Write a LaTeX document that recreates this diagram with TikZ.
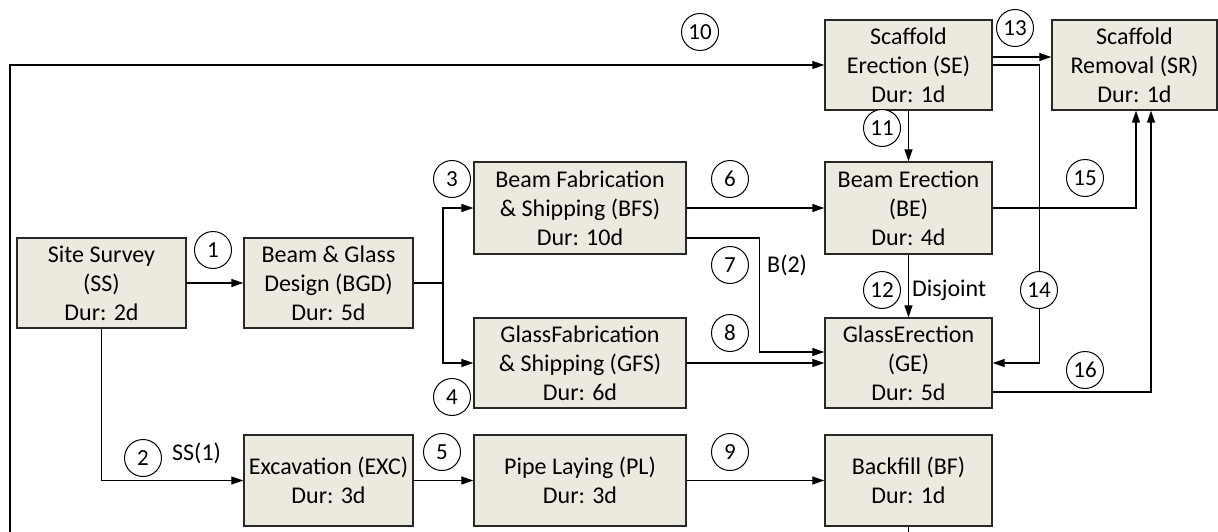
\documentclass[tikz,border=0pt]{standalone}
\usepackage{fontspec}
\setmainfont{Carlito}
\usetikzlibrary{arrows.meta,calc}
\definecolor{boxfill}{RGB}{236,233,223}
\definecolor{boxline}{RGB}{40,40,40}
\tikzset{
  box/.style={draw=boxline, line width=1.4pt, fill=boxfill, rectangle, inner sep=0pt, align=center,
    font=\fontsize{24}{29}\selectfont},
  circ/.style={draw, fill=white, circle, line width=1pt, minimum size=37pt, inner sep=0pt,
    font=\fontsize{23}{25}\selectfont},
  lbl/.style={inner sep=0pt, font=\fontsize{24}{26}\selectfont},
  conn/.style={line width=1.3pt, draw=black},
  arr/.style={conn, -{Triangle[length=12pt,width=8pt]}},
}
\begin{document}
\begin{tikzpicture}[x=1pt,y=-1pt]
\useasboundingbox (0,0) rectangle (1218,532);
\clip (0,0) rectangle (1218,532);
% boxes
\node[box, minimum width=169pt, minimum height=90pt] (SS) at (101.5,283) {Site Survey\\(SS)\\Dur: 2d};
\node[box, minimum width=169pt, minimum height=90pt] (BGD) at (328.5,283) {Beam \& Glass\\Design (BGD)\\Dur: 5d};
\node[box, minimum width=169pt, minimum height=91pt] (EXC) at (328.5,480.5) {Excavation (EXC)\\Dur: 3d};
\node[box, minimum width=212pt, minimum height=92pt] (BFS) at (580,208) {Beam Fabrication\\\& Shipping (BFS)\\Dur: 10d};
\node[box, minimum width=212pt, minimum height=90pt] (GFS) at (580,363) {GlassFabrication\\\& Shipping (GFS)\\Dur: 6d};
\node[box, minimum width=212pt, minimum height=91pt] (PL) at (580,480.5) {Pipe Laying (PL)\\Dur: 3d};
\node[box, minimum width=167pt, minimum height=90pt] (SE) at (908.5,65) {Scaffold\\Erection (SE)\\Dur: 1d};
\node[box, minimum width=167pt, minimum height=92pt] (BE) at (908.5,208) {Beam Erection\\(BE)\\Dur: 4d};
\node[box, minimum width=167pt, minimum height=90pt] (GE) at (908.5,363) {GlassErection\\(GE)\\Dur: 5d};
\node[box, minimum width=167pt, minimum height=91pt] (BF) at (908.5,480.5) {Backfill (BF)\\Dur: 1d};
\node[box, minimum width=165pt, minimum height=90pt] (SR) at (1134.5,65) {Scaffold\\Removal (SR)\\Dur: 1d};
% connectors
\coordinate (J) at (443,283);
\coordinate (L) at (10,560);
\draw[arr] (SS.east) -- (BGD.west);
\draw[arr] (SS.south) |- (EXC.west);
\draw[conn] (BGD.east) -- (J);
\draw[arr] (J) |- (BFS.west);
\draw[arr] (J) |- (GFS.west);
\draw[arr] (EXC.east) -- (PL.west);
\draw[arr] (BFS.east) -- (BE.west);
\draw[arr] ([yshift=-30pt]BFS.east) -- ++(73,0) |- ([yshift=11pt]GE.west);
\draw[arr] (GFS.east) -- (GE.west);
\draw[arr] (PL.east) -- (BF.west);
\draw[arr] (BF.south) |- (L) |- (SE.west);
\draw[arr] (SE.south) -- (BE.north);
\draw[arr] (BE.south) -- (GE.north);
\draw[arr] ([yshift=8pt]SE.east) -- ([yshift=8pt]SR.west);
\draw[arr] (SE.east) -- ++(47,0) |- (GE.east);
\draw[arr] (BE.east) -| ([xshift=1.5pt]SR.south);
\draw[arr] ([yshift=-29pt]GE.east) -| ([xshift=16.5pt]SR.south);
% circled numbers
\node[circ] (n1) at (213,250) {1};
\node[circ] (n2) at (143,458) {2};
\node[circ] (n3) at (452,179) {3};
\node[circ] (n4) at (452,397) {4};
\node[circ] (n5) at (442,452) {5};
\node[circ] (n6) at (730,179) {6};
\node[circ] (n7) at (730,265) {7};
\node[circ] (n8) at (730,333) {8};
\node[circ] (n9) at (730,452) {9};
\node[circ] (n10) at (700,32) {10};
\node[circ] (n11) at (882,128) {11};
\node[circ] (n12) at (882,290) {12};
\node[circ] (n13) at (1015,28) {13};
\node[circ] (n14) at (1039,290) {14};
\node[circ] (n15) at (1085,178) {15};
\node[circ] (n16) at (1085,370) {16};
% labels
\node[lbl, anchor=west] (lss) at (172,453) {SS(1)};
\node[lbl, anchor=west] (lb2) at (767,265) {B(2)};
\node[lbl, anchor=west] (ldj) at (912,290) {Disjoint};
\end{tikzpicture}
\end{document}
